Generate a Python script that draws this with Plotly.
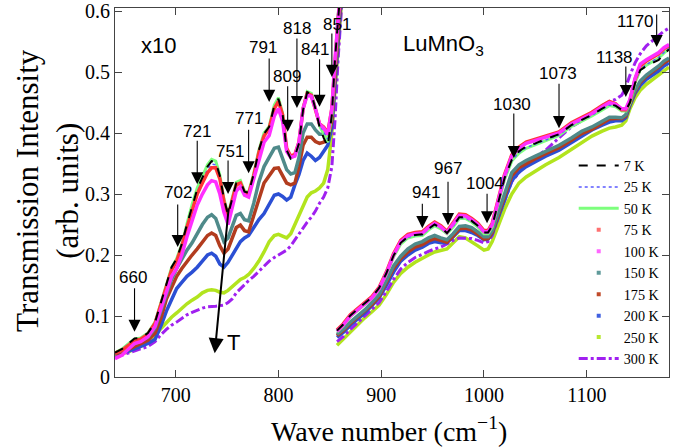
import plotly.graph_objects as go

# ---------------- data ----------------
x_left = [641, 648, 655, 660, 666, 673, 680, 686, 691, 696, 701, 706, 711, 716, 721, 726, 731, 735, 739, 743,
          747, 751, 755, 759, 763, 767, 771, 776, 781, 786, 791, 796, 800, 804, 808, 812, 816, 820, 824, 828,
          832, 836, 840, 844, 848, 852, 855, 858, 862]
x_right = [857, 863, 870, 877, 884, 891, 898, 905, 912, 919, 926, 933, 940, 946, 952, 958, 964, 970, 976, 982,
           988, 994, 1000, 1004, 1008, 1014, 1020, 1027, 1034, 1041, 1050, 1060, 1073, 1085, 1095, 1105, 1115,
           1122, 1128, 1134, 1138, 1142, 1147, 1152, 1158, 1164, 1170, 1175, 1180]

# left part is shown x10
y7_left = [0.040, 0.046, 0.056, 0.063, 0.064, 0.072, 0.090, 0.125, 0.151, 0.180, 0.194, 0.218, 0.250, 0.281, 0.308,
           0.327, 0.345, 0.354, 0.352, 0.330, 0.292, 0.266, 0.292, 0.318, 0.320, 0.304, 0.302, 0.333, 0.372, 0.399,
           0.410, 0.445, 0.456, 0.432, 0.372, 0.358, 0.362, 0.383, 0.438, 0.467, 0.464, 0.440, 0.410, 0.392, 0.378,
           0.430, 0.520, 0.590, 0.670]
y25_left = [0.039, 0.045, 0.055, 0.061, 0.063, 0.071, 0.089, 0.123, 0.150, 0.178, 0.192, 0.216, 0.248, 0.278, 0.304,
            0.323, 0.340, 0.349, 0.348, 0.328, 0.290, 0.265, 0.291, 0.316, 0.319, 0.303, 0.301, 0.331, 0.370, 0.397,
            0.409, 0.442, 0.454, 0.431, 0.374, 0.360, 0.364, 0.384, 0.439, 0.466, 0.463, 0.440, 0.413, 0.402, 0.390,
            0.436, 0.520, 0.588, 0.665]
y50_left = [0.040, 0.046, 0.056, 0.062, 0.064, 0.072, 0.090, 0.124, 0.151, 0.179, 0.194, 0.218, 0.251, 0.283, 0.310,
            0.330, 0.348, 0.357, 0.354, 0.331, 0.292, 0.267, 0.293, 0.319, 0.322, 0.305, 0.303, 0.334, 0.372, 0.400,
            0.411, 0.446, 0.458, 0.433, 0.373, 0.359, 0.363, 0.384, 0.440, 0.468, 0.465, 0.441, 0.412, 0.398, 0.385,
            0.432, 0.520, 0.592, 0.668]
y75_left = [0.039, 0.044, 0.053, 0.060, 0.062, 0.070, 0.088, 0.122, 0.148, 0.175, 0.190, 0.214, 0.245, 0.275, 0.300,
            0.318, 0.335, 0.343, 0.343, 0.325, 0.288, 0.263, 0.290, 0.315, 0.318, 0.302, 0.300, 0.330, 0.368, 0.395,
            0.408, 0.440, 0.452, 0.430, 0.375, 0.362, 0.365, 0.385, 0.440, 0.465, 0.462, 0.440, 0.415, 0.410, 0.400,
            0.440, 0.520, 0.585, 0.660]
y100_left = [0.030, 0.036, 0.047, 0.055, 0.058, 0.066, 0.083, 0.115, 0.140, 0.165, 0.178, 0.200, 0.230, 0.258, 0.282,
             0.300, 0.315, 0.322, 0.320, 0.300, 0.270, 0.250, 0.275, 0.305, 0.312, 0.298, 0.295, 0.325, 0.360, 0.385,
             0.396, 0.428, 0.440, 0.420, 0.370, 0.360, 0.362, 0.385, 0.440, 0.462, 0.460, 0.440, 0.415, 0.408, 0.398,
             0.440, 0.520, 0.590, 0.670]
y150_left = [0.039, 0.043, 0.050, 0.054, 0.058, 0.065, 0.080, 0.110, 0.138, 0.160, 0.178, 0.193, 0.208, 0.220, 0.235,
             0.250, 0.262, 0.266, 0.260, 0.240, 0.222, 0.228, 0.245, 0.265, 0.268, 0.258, 0.256, 0.285, 0.320, 0.345,
             0.360, 0.375, 0.377, 0.360, 0.340, 0.333, 0.335, 0.360, 0.400, 0.415, 0.415, 0.405, 0.398, 0.398, 0.400,
             0.430, 0.500, 0.580, 0.660]
y175_left = [0.038, 0.041, 0.046, 0.050, 0.054, 0.060, 0.072, 0.098, 0.128, 0.148, 0.165, 0.178, 0.190, 0.200, 0.210,
             0.222, 0.232, 0.236, 0.232, 0.215, 0.203, 0.210, 0.228, 0.245, 0.249, 0.240, 0.238, 0.265, 0.295, 0.318,
             0.330, 0.342, 0.343, 0.330, 0.318, 0.315, 0.318, 0.345, 0.380, 0.393, 0.393, 0.386, 0.383, 0.385, 0.390,
             0.420, 0.490, 0.570, 0.650]
y200_left = [0.038, 0.040, 0.043, 0.046, 0.050, 0.055, 0.062, 0.085, 0.108, 0.128, 0.145, 0.155, 0.165, 0.172, 0.180,
             0.190, 0.200, 0.203, 0.198, 0.185, 0.180, 0.188, 0.200, 0.212, 0.222, 0.228, 0.232, 0.245, 0.258, 0.268,
             0.282, 0.298, 0.300, 0.296, 0.290, 0.295, 0.315, 0.332, 0.355, 0.367, 0.362, 0.355, 0.360, 0.370, 0.380,
             0.410, 0.480, 0.560, 0.640]
y250_left = [0.036, 0.038, 0.042, 0.046, 0.050, 0.058, 0.068, 0.080, 0.090, 0.098, 0.105, 0.113, 0.120, 0.126, 0.131,
             0.138, 0.142, 0.143, 0.142, 0.139, 0.138, 0.142, 0.148, 0.155, 0.160, 0.163, 0.168, 0.178, 0.190, 0.205,
             0.222, 0.232, 0.234, 0.231, 0.228, 0.235, 0.250, 0.266, 0.280, 0.295, 0.302, 0.305, 0.310, 0.318, 0.340,
             0.400, 0.470, 0.550, 0.630]
y300_left = [0.032, 0.036, 0.040, 0.042, 0.046, 0.050, 0.058, 0.070, 0.078, 0.085, 0.090, 0.096, 0.102, 0.106, 0.110,
             0.113, 0.115, 0.115, 0.116, 0.117, 0.118, 0.122, 0.128, 0.138, 0.145, 0.152, 0.158, 0.165, 0.173, 0.182,
             0.190, 0.196, 0.200, 0.204, 0.208, 0.215, 0.225, 0.235, 0.245, 0.254, 0.262, 0.272, 0.285, 0.295, 0.310,
             0.345, 0.420, 0.520, 0.620]

y7_right = [0.076, 0.086, 0.101, 0.111, 0.121, 0.131, 0.146, 0.170, 0.199, 0.220, 0.230, 0.233, 0.234, 0.243, 0.250,
            0.245, 0.236, 0.248, 0.262, 0.262, 0.256, 0.248, 0.237, 0.237, 0.248, 0.287, 0.326, 0.356, 0.370, 0.378,
            0.383, 0.390, 0.398, 0.413, 0.421, 0.430, 0.440, 0.447, 0.445, 0.438, 0.437, 0.450, 0.482, 0.503, 0.510,
            0.515, 0.520, 0.530, 0.537]
y25_right = [0.075, 0.085, 0.100, 0.110, 0.120, 0.130, 0.145, 0.169, 0.198, 0.219, 0.229, 0.232, 0.233, 0.242, 0.249,
             0.244, 0.236, 0.247, 0.261, 0.261, 0.255, 0.247, 0.236, 0.236, 0.247, 0.286, 0.325, 0.355, 0.368, 0.376,
             0.382, 0.389, 0.397, 0.412, 0.420, 0.429, 0.439, 0.446, 0.444, 0.437, 0.437, 0.450, 0.483, 0.505, 0.512,
             0.518, 0.524, 0.532, 0.539]
y50_right = [0.074, 0.084, 0.099, 0.109, 0.119, 0.129, 0.144, 0.168, 0.197, 0.218, 0.228, 0.231, 0.232, 0.241, 0.248,
             0.243, 0.235, 0.246, 0.260, 0.260, 0.254, 0.246, 0.235, 0.235, 0.246, 0.285, 0.324, 0.354, 0.367, 0.375,
             0.381, 0.388, 0.396, 0.411, 0.419, 0.428, 0.438, 0.445, 0.443, 0.436, 0.436, 0.449, 0.482, 0.504, 0.511,
             0.517, 0.523, 0.531, 0.538]
y75_right = [0.077, 0.087, 0.102, 0.112, 0.122, 0.132, 0.147, 0.172, 0.202, 0.224, 0.234, 0.237, 0.238, 0.247, 0.254,
             0.248, 0.239, 0.252, 0.267, 0.266, 0.260, 0.252, 0.240, 0.240, 0.252, 0.292, 0.332, 0.364, 0.377, 0.385,
             0.390, 0.395, 0.402, 0.417, 0.425, 0.434, 0.445, 0.452, 0.448, 0.438, 0.438, 0.453, 0.488, 0.510, 0.518,
             0.524, 0.530, 0.538, 0.543]
y100_right = [0.075, 0.085, 0.100, 0.110, 0.120, 0.130, 0.145, 0.170, 0.200, 0.222, 0.232, 0.235, 0.236, 0.245, 0.252,
              0.246, 0.237, 0.250, 0.265, 0.264, 0.258, 0.250, 0.238, 0.238, 0.250, 0.290, 0.330, 0.362, 0.375, 0.383,
              0.388, 0.393, 0.400, 0.415, 0.423, 0.432, 0.443, 0.450, 0.447, 0.440, 0.440, 0.455, 0.490, 0.513, 0.520,
              0.526, 0.532, 0.540, 0.545]
y150_right = [0.070, 0.078, 0.090, 0.100, 0.110, 0.122, 0.135, 0.158, 0.182, 0.198, 0.210, 0.218, 0.222, 0.228, 0.232,
              0.228, 0.225, 0.235, 0.247, 0.248, 0.245, 0.238, 0.230, 0.230, 0.240, 0.270, 0.300, 0.335, 0.348, 0.355,
              0.362, 0.370, 0.380, 0.392, 0.403, 0.410, 0.420, 0.426, 0.426, 0.425, 0.430, 0.450, 0.470, 0.485, 0.495,
              0.502, 0.510, 0.518, 0.523]
y175_right = [0.068, 0.076, 0.088, 0.098, 0.108, 0.119, 0.132, 0.154, 0.178, 0.194, 0.205, 0.213, 0.217, 0.223, 0.227,
              0.224, 0.221, 0.231, 0.243, 0.244, 0.241, 0.234, 0.226, 0.227, 0.237, 0.266, 0.296, 0.330, 0.343, 0.350,
              0.358, 0.366, 0.376, 0.388, 0.399, 0.406, 0.416, 0.423, 0.424, 0.424, 0.428, 0.448, 0.468, 0.483, 0.493,
              0.500, 0.508, 0.515, 0.520]
y200_right = [0.065, 0.073, 0.085, 0.095, 0.105, 0.117, 0.130, 0.150, 0.172, 0.190, 0.200, 0.208, 0.213, 0.219, 0.222,
              0.220, 0.220, 0.230, 0.240, 0.240, 0.237, 0.232, 0.225, 0.226, 0.235, 0.262, 0.290, 0.322, 0.336, 0.345,
              0.353, 0.362, 0.372, 0.385, 0.395, 0.405, 0.413, 0.418, 0.420, 0.420, 0.425, 0.445, 0.465, 0.478, 0.488,
              0.495, 0.502, 0.510, 0.515]
y250_right = [0.052, 0.062, 0.075, 0.086, 0.097, 0.107, 0.118, 0.135, 0.155, 0.170, 0.180, 0.188, 0.195, 0.200, 0.205,
              0.207, 0.210, 0.220, 0.230, 0.228, 0.222, 0.215, 0.208, 0.210, 0.222, 0.250, 0.275, 0.300, 0.318, 0.328,
              0.338, 0.348, 0.360, 0.373, 0.384, 0.395, 0.403, 0.408, 0.410, 0.413, 0.420, 0.440, 0.458, 0.470, 0.480,
              0.488, 0.496, 0.503, 0.508]
y300_right = [0.058, 0.066, 0.078, 0.089, 0.100, 0.110, 0.122, 0.140, 0.160, 0.177, 0.188, 0.196, 0.202, 0.206, 0.210,
              0.213, 0.218, 0.224, 0.228, 0.228, 0.227, 0.224, 0.220, 0.222, 0.232, 0.262, 0.290, 0.320, 0.335, 0.350,
              0.360, 0.372, 0.392, 0.410, 0.420, 0.430, 0.445, 0.452, 0.455, 0.462, 0.475, 0.495, 0.515, 0.530, 0.543,
              0.552, 0.560, 0.567, 0.572]

temps = ["7 K", "25 K", "50 K", "75 K", "100 K", "150 K", "175 K", "200 K", "250 K", "300 K"]
left_data = [y7_left, y25_left, y50_left, y75_left, y100_left, y150_left, y175_left, y200_left, y250_left, y300_left]
right_data = [y7_right, y25_right, y50_right, y75_right, y100_right, y150_right, y175_right, y200_right, y250_right,
              y300_right]

# peak markers (label, arrow-tip position)
peak_x = [660, 702, 721, 751, 771, 791, 809, 818, 841, 851, 941, 967, 1004, 1030, 1073, 1138, 1170]
peak_tip_x = [660, 702, 721, 751, 771, 791, 809, 818, 840, 852, 940, 965, 1003, 1029, 1073, 1138, 1168]
peak_tip_y = [0.074, 0.213, 0.316, 0.300, 0.334, 0.451, 0.402, 0.441, 0.443, 0.492, 0.244, 0.249, 0.252, 0.359,
              0.408, 0.459, 0.541]
# arrow length (px), label offset from tip (px)
peak_len = [45, 44, 45, 35, 45, 45, 47, 71, 49, 45, 26, 45, 31, 46, 46, 32, 34]
peak_dx = [-2, 0, 0, 2, 0, -6, -1, 0, -5, 5, 4, 0, -2, -2, -1, -11, -21]
peak_dy = [-54, -55, -53, -43, -55, -54, -55, -80, -57, -52, -36, -57, -40, -54, -55, -40, -26]

# ---------------- styles ----------------
styles = {
    "7 K": dict(kind="line", color="#000000", dash="dash", width=2),
    "25 K": dict(kind="line", color="#5a5aff", dash="dot", width=1.5),
    "50 K": dict(kind="line", color="#7dff7d", dash="solid", width=3),
    "75 K": dict(kind="dots", color="#ff3535", legend_color="#ff7070"),
    "100 K": dict(kind="dots", color="#ff2eff", legend_color="#ff66ff"),
    "150 K": dict(kind="dots", color="#4f8a8a", legend_color="#5f9a9a"),
    "175 K": dict(kind="dots", color="#b23c1e", legend_color="#c04a2a"),
    "200 K": dict(kind="dots", color="#2b4fd4", legend_color="#4060e0"),
    "250 K": dict(kind="dots", color="#b2e41e", legend_color="#b8e830"),
    "300 K": dict(kind="line", color="#a020f0", dash="dashdot", width=3),
}

fig = go.Figure()

draw_order = ["250 K", "300 K", "200 K", "175 K", "150 K", "50 K", "25 K", "75 K", "100 K", "7 K"]
for t in draw_order:
    i = temps.index(t)
    st = styles[t]
    xs = x_left + [None] + x_right
    ys = left_data[i] + [None] + right_data[i]
    if st["kind"] == "line":
        line = dict(color=st["color"], dash=st["dash"], width=st["width"])
    else:
        line = dict(color=st["color"], width=3.5)
    fig.add_trace(go.Scatter(x=xs, y=ys, mode="lines", line=line, showlegend=False,
                             hoverinfo="skip", cliponaxis=True))

# legend entries in temperature order
for t in temps:
    st = styles[t]
    if st["kind"] == "line":
        fig.add_trace(go.Scatter(x=[None], y=[None], mode="lines", name=t,
                                 line=dict(color=st["color"], dash=st["dash"], width=st["width"])))
    else:
        fig.add_trace(go.Scatter(x=[None], y=[None], mode="markers", name=t,
                                 marker=dict(color=st["legend_color"], size=4, symbol="square")))

SANS = "Liberation Sans, Arial, sans-serif"
SERIF = "Liberation Serif"

ann = []
for lab, tx, ty, ln, dx, dy in zip(peak_x, peak_tip_x, peak_tip_y, peak_len, peak_dx, peak_dy):
    ann.append(dict(x=tx, y=ty, xref="x", yref="y", text="", showarrow=True, ax=0, ay=-ln,
                    arrowhead=2, arrowsize=2.2, arrowwidth=1.1, arrowcolor="black", standoff=0))
    ann.append(dict(x=tx, y=ty, xref="x", yref="y", text=str(lab), showarrow=False,
                    xshift=dx, yshift=-dy, font=dict(family=SANS, size=17, color="black"),
                    xanchor="center", yanchor="middle"))

# temperature arrow
ann.append(dict(x=738, y=0.039, xref="x", yref="y", ax=751.7, ay=0.279, axref="x", ayref="y",
                text="", showarrow=True, arrowhead=2, arrowsize=1.5, arrowwidth=2, arrowcolor="black"))
ann.append(dict(x=756, y=0.056, xref="x", yref="y", text="T", showarrow=False,
                font=dict(family=SANS, size=22, color="black"), xanchor="center", yanchor="middle"))
ann.append(dict(x=683, y=0.543, xref="x", yref="y", text="x10", showarrow=False,
                font=dict(family=SANS, size=22, color="black"), xanchor="center", yanchor="middle"))
ann.append(dict(x=919.5, y=0.545, xref="x", yref="y", text="LuMnO<sub>3</sub>", showarrow=False,
                font=dict(family=SANS, size=22, color="black"), xanchor="left", yanchor="middle"))

# axis titles
ann.append(dict(x=-0.121, y=0.507, xref="paper", yref="paper", text="Transmission Intensity<br>(arb. units)",
                showarrow=False, textangle=-90, font=dict(family=SERIF, size=31, color="black"),
                xanchor="center", yanchor="middle"))
ann.append(dict(x=0.4946, y=-0.142, xref="paper", yref="paper", text="Wave number (cm<sup>\u22121</sup>)",
                showarrow=False, font=dict(family=SERIF, size=28, color="black"),
                xanchor="center", yanchor="middle"))

fig.update_layout(
    width=687, height=448,
    margin=dict(l=115, r=18, t=8, b=71, autoexpand=False),
    paper_bgcolor="white", plot_bgcolor="white",
    annotations=ann,
    showlegend=True,
    legend=dict(x=0.828, y=0.616, xanchor="left", yanchor="top", bgcolor="rgba(0,0,0,0)",
                font=dict(family=SERIF, size=14.2, color="black"), tracegroupgap=0, itemwidth=40),
)
fig.update_xaxes(range=[641, 1180], tickvals=[700, 800, 900, 1000, 1100], ticks="inside", ticklen=7,
                 tickcolor="#444", showline=True, linecolor="#444", linewidth=1, mirror="ticks",
                 showgrid=False, zeroline=False, automargin=False,
                 tickfont=dict(family=SERIF, size=20, color="black"))
fig.update_yaxes(range=[0, 0.605], tickvals=[0, 0.1, 0.2, 0.3, 0.4, 0.5, 0.6],
                 ticktext=["0", "0.1", "0.2", "0.3", "0.4", "0.5", "0.6"], ticks="inside", ticklen=7,
                 tickcolor="#444", showline=True, linecolor="#444", linewidth=1, mirror="ticks",
                 showgrid=False, zeroline=False, automargin=False,
                 tickfont=dict(family=SERIF, size=20, color="black"))

fig.write_html("out.html", config={"displayModeBar": False},
               post_script="document.body.style.margin='0';")
